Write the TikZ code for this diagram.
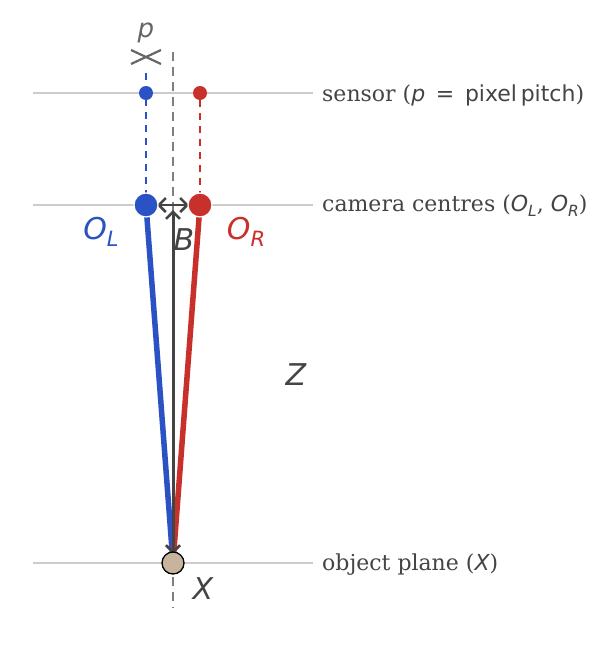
\documentclass[tikz,border=0pt]{standalone}
\usepackage{fontspec}
\usetikzlibrary{arrows.meta}
\newfontfamily\dvs{DejaVu Sans}
\newfontfamily\dvserif{DejaVu Serif}
\definecolor{cblue}{HTML}{2A52C4}
\definecolor{cred}{HTML}{C8302B}
\definecolor{cgrey}{HTML}{444444}
\definecolor{lgrey}{HTML}{CCCCCC}
\definecolor{dgrey}{HTML}{808080}
\definecolor{mgrey}{HTML}{666666}
\definecolor{tan}{HTML}{C8B49C}
\newcommand\msub[2]{{\dvs\itshape #1}\raisebox{-0.22em}{\scalebox{0.7}{\dvs\itshape #2}}}
\tikzset{
  guide/.style={lgrey, line width=1.5pt},
  centre/.style={dgrey, line width=1.5pt, dash pattern=on 9pt off 6pt},
  bdash/.style={cblue, line width=2pt, dash pattern=on 7pt off 6pt},
  rdash/.style={cred, line width=2pt, dash pattern=on 7pt off 6pt},
  ray/.style={line width=5.5pt},
  dim/.style={cgrey, line width=3pt, {Straight Barb[length=7pt,width=14pt,line width=2.5pt]}-{Straight Barb[length=7pt,width=14pt,line width=2.5pt]}},
  camdot/.style={circle, inner sep=0pt, minimum size=24pt, draw=white, line width=1.2pt},
  sensdot/.style={circle, inner sep=0pt, minimum size=14pt},
  lab/.style={anchor=west, text=cgrey, inner sep=2pt, font=\dvserif\fontsize{22}{26}\selectfont},
  mlab/.style={font=\dvs\itshape\fontsize{30}{34}\selectfont},
}
\begin{document}
\begin{tikzpicture}[x=1pt,y=-1pt]
\useasboundingbox (0,0) rectangle (607,656);
% guide lines
\coordinate (g1a) at (33,93);  \coordinate (g1b) at (313,93);
\coordinate (g2a) at (33,205); \coordinate (g2b) at (313,205);
\coordinate (g3a) at (33,563); \coordinate (g3b) at (313,563);
\draw[guide] (g1a) -- (g1b);
\draw[guide] (g2a) -- (g2b);
\draw[guide] (g3a) -- (g3b);
% centre line
\coordinate (ctop) at (173,52); \coordinate (cbot) at (173,608);
\draw[centre] (ctop) -- (cbot);
% named points
\coordinate (pOL) at (146,205);
\coordinate (pOR) at (200,205);
\coordinate (pX) at (173,563);
\coordinate (btop) at (146,73);
\coordinate (rtop) at (200,100);
% dashed sensor-to-centre lines
\draw[bdash] (btop) -- (pOL);
\draw[rdash] (rtop) -- (pOR);
% rays
\draw[ray, cblue] (pOL) -- (pX);
\draw[ray, cred] (pOR) -- (pX);
% Z arrow
\coordinate (ztop) at (173,210);
\coordinate (zbot) at (173,554);
\draw[dim] (zbot) -- (ztop);
% B arrow
\coordinate (bl) at (157,205);
\coordinate (br) at (189,205);
\draw[dim, line width=2.5pt] (bl) -- (br);
% p marker
\coordinate (pc) at (146,57);
\coordinate (p1) at (131,50); \coordinate (p2) at (161,64);
\coordinate (p3) at (131,64); \coordinate (p4) at (161,50);
\draw[mgrey, line width=2.2pt] (p1) -- (pc) -- (p4);
\draw[mgrey, line width=2.2pt] (p3) -- (pc) -- (p2);
% dots
\node[sensdot, fill=cblue] (SL) at (146,93) {};
\node[sensdot, fill=cred] (SR) at (200,93) {};
\node[camdot, fill=cblue] (OL) at (pOL) {};
\node[camdot, fill=cred] (OR) at (pOR) {};
\node[circle, inner sep=0pt, minimum size=22pt, fill=tan, draw=black, line width=1.3pt] (X) at (pX) {};
% math labels
\node[mlab, text=mgrey, font=\dvs\itshape\fontsize{26}{30}\selectfont] (plab) at (146,33) {p};
\node[mlab, text=cblue] (OLlab) at (101,232) {\msub{O}{L}};
\node[mlab, text=cred] (ORlab) at (246,232) {\msub{O}{R}};
\node[mlab, text=cgrey] (Blab) at (184,240) {B};
\node[mlab, text=cgrey] (Zlab) at (296,375) {Z};
\node[mlab, text=cgrey] (Xlab) at (203,589) {X};
% text labels
\node[lab] (t1) at (320,95) {sensor ({\dvs\itshape p}{\dvs\ \,=\ \,pixel\,pitch})};
\node[lab] (t2) at (320,206) {camera centres (\msub{O}{L}, \msub{O}{R})};
\node[lab] (t3) at (320,565) {object plane ({\dvs\itshape X})};
\end{tikzpicture}
\end{document}
